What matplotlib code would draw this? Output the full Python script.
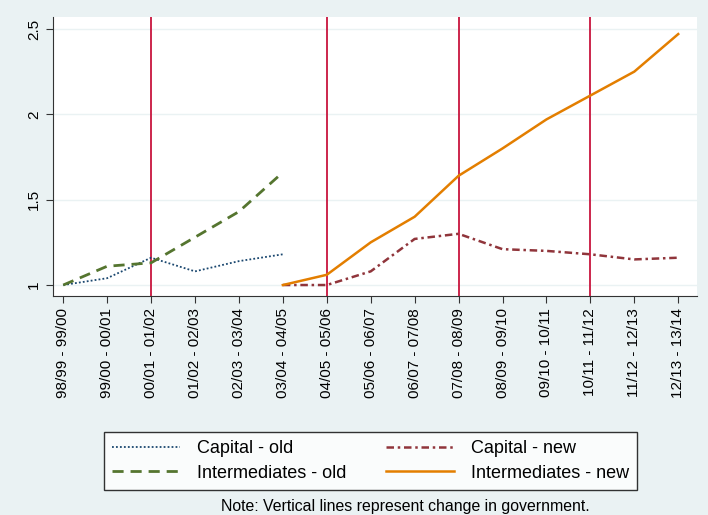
import numpy as np
import matplotlib.pyplot as plt

plt.rcParams['font.family'] = ['Liberation Sans', 'DejaVu Sans']

periods = ['98/99 - 99/00', '99/00 - 00/01', '00/01 - 01/02', '01/02 - 02/03',
           '02/03 - 03/04', '03/04 - 04/05', '04/05 - 05/06', '05/06 - 06/07',
           '06/07 - 07/08', '07/08 - 08/09', '08/09 - 09/10', '09/10 - 10/11',
           '10/11 - 11/12', '11/12 - 12/13', '12/13 - 13/14']
capital_old = [1.0, 1.04, 1.16, 1.08, 1.14, 1.18]
inter_old = [1.0, 1.11, 1.13, 1.28, 1.43, 1.66]
capital_new = [1.0, 1.0, 1.08, 1.27, 1.30, 1.21, 1.20, 1.18, 1.15, 1.16]
inter_new = [1.0, 1.06, 1.25, 1.40, 1.64, 1.80, 1.97, 2.11, 2.25, 2.47]
gov_change = [2, 6, 9, 12]

x_old = np.arange(len(capital_old))
x_new = np.arange(5, 5 + len(capital_new))

fig = plt.figure(figsize=(7.08, 5.15), dpi=100, facecolor='#eaf2f3')
ax = fig.add_axes([0.075, 0.425, 0.909, 0.542])
ax.set_facecolor('white')

for y in [1, 1.5, 2, 2.5]:
    ax.axhline(y, color='#eaf2f3', lw=1, zorder=0)
for g in gov_change:
    ax.axvline(g, color='#c8153e', lw=1.3, zorder=1)

l1, = ax.plot(x_old, capital_old, color='#1a476f', ls=(0, (1, 1.2)), lw=1.3, label='Capital - old')
l2, = ax.plot(x_old, inter_old, color='#55752f', ls=(0, (4, 2.5)), lw=2, label='Intermediates - old')
l3, = ax.plot(x_new, capital_new, color='#90353b', ls=(0, (3, 1.5, 1, 1.5)), lw=1.8, label='Capital - new')
l4, = ax.plot(x_new, inter_new, color='#e37e00', lw=1.8, label='Intermediates - new')

ax.set_xlim(-0.23, 14.42)
ax.set_ylim(0.935, 2.57)
ax.set_xticks(range(len(periods)))
ax.set_xticklabels(periods, rotation=90, fontsize=11)
ax.set_yticks([1, 1.5, 2, 2.5])
ax.set_yticklabels(['1', '1.5', '2', '2.5'], rotation=90, va='center', fontsize=11)
ax.spines['right'].set_visible(False)
ax.spines['top'].set_visible(False)
ax.spines['left'].set_color('#333333')
ax.spines['bottom'].set_color('#333333')
ax.tick_params(color='#333333', length=5)

leg = fig.legend(handles=[l1, l2, l3, l4], ncol=2, loc='center',
                 bbox_to_anchor=(0.523, 0.105), fontsize=13, frameon=True,
                 fancybox=False, edgecolor='black', facecolor='white',
                 handlelength=3.8, handletextpad=0.9, columnspacing=2.2,
                 borderpad=0.45, labelspacing=0.4)
leg.get_frame().set_linewidth(1)

fig.text(0.572, 0.017, 'Note: Vertical lines represent change in government.',
         ha='center', va='center', fontsize=11.4)

fig.savefig('out.png', dpi=100, facecolor=fig.get_facecolor())
